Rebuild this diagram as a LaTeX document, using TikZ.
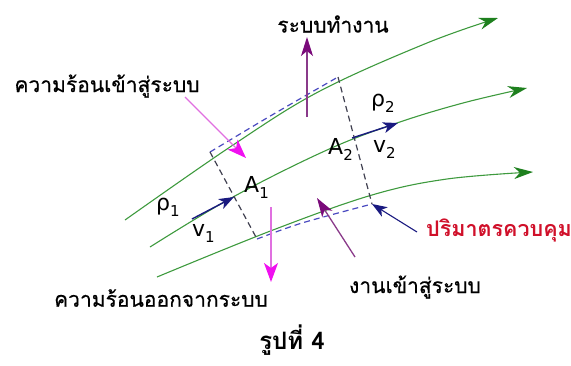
\documentclass[tikz,border=0pt]{standalone}
\usepackage{fontspec}
\setmainfont{DejaVu Sans}
\newfontfamily\thai[Script=Thai]{Loma}
\newfontfamily\thaiheavy[Script=Thai,FakeBold=0.6]{Loma}
\usetikzlibrary{arrows.meta}
\definecolor{sgreen}{HTML}{3E9A3E}
\definecolor{sgreentip}{HTML}{1E801E}
\definecolor{navy}{HTML}{1A1A80}
\definecolor{purp}{HTML}{8A3A8A}
\definecolor{purptip}{HTML}{7A0A7A}
\definecolor{magline}{HTML}{E070E0}
\definecolor{magtip}{HTML}{F010F0}
\definecolor{cvblue}{HTML}{4A4AC0}
\definecolor{cvgray}{HTML}{404050}
\definecolor{cvred}{HTML}{D0102A}
\newcommand{\mysub}[1]{\raisebox{-0.5ex}{\fontsize{15}{15}\selectfont #1}}
\tikzset{
  stream/.style={sgreen, line width=1.1pt, -{Stealth[length=19pt,width=12pt,inset=6pt,fill=sgreentip,color=sgreentip]}},
  vel/.style={navy, line width=1.4pt, -{Stealth[length=15pt,width=11pt,inset=4pt]}},
  workarr/.style={purp, line width=1.3pt, -{Stealth[length=19pt,width=12pt,inset=5pt,color=purptip]}},
  heatarr/.style={magline, line width=1.3pt, -{Stealth[length=19pt,width=14pt,inset=5pt,color=magtip]}},
  cvtop/.style={cvblue, line width=1.2pt, dash pattern=on 6pt off 4pt},
  cvside/.style={cvgray, line width=1.2pt, dash pattern=on 6pt off 4pt},
  thlabel/.style={inner sep=0pt, font=\thaiheavy\fontsize{21}{21}\selectfont},
  latin/.style={inner sep=0pt, font=\fontsize{22}{22}\selectfont, anchor=base west},
}
\begin{document}
\begin{tikzpicture}[x=1pt,y=-1pt]
\useasboundingbox (0,0) rectangle (571,365);
% streamlines
\coordinate (s1a) at (125,220); \coordinate (s1b) at (498,18);
\coordinate (s2a) at (150,247); \coordinate (s2b) at (527,88);
\coordinate (s3a) at (157,277); \coordinate (s3b) at (533,172);
\draw[stream] plot[smooth,tension=0.6] coordinates {(s1a) (233,145) (320,91) (427,43) (s1b)};
\draw[stream] plot[smooth,tension=0.6] coordinates {(s2a) (233,197) (327,150) (397,123) (463,103) (s2b)};
\draw[stream] plot[smooth,tension=0.6] coordinates {(s3a) (273,230) (372,195) (447,179) (s3b)};
% control volume
\coordinate (tl) at (210,152); \coordinate (tr) at (338,77);
\coordinate (br) at (372,204); \coordinate (bl) at (257,239);
\draw[cvtop] plot[smooth,tension=0.5] coordinates {(tl) (272,115) (tr)};
\draw[cvtop] plot[smooth,tension=0.5] coordinates {(bl) (302,223) (br)};
\draw[cvside] (tl) -- (bl);
\draw[cvside] (tr) -- (br);
% velocity arrows
\coordinate (v1a) at (192,219); \coordinate (v1b) at (234,197);
\coordinate (v2a) at (352,138); \coordinate (v2b) at (398,123);
\draw[vel] (v1a) -- (v1b);
\draw[vel] (v2a) -- (v2b);
% labels
\node[thlabel] (work) at (333,24) {ระบบทำงาน};
\node[thlabel] (heatin) at (107,86) {ความร้อนเข้าสู่ระบบ};
\node[thlabel] (heatout) at (161,298) {ความร้อนออกจากระบบ};
\node[thlabel] (workin) at (415,287) {งานเข้าสู่ระบบ};
\node[thlabel, anchor=west, text=cvred, font=\thai\bfseries\fontsize{21.5}{21.5}\selectfont] (cv) at (426,230) {ปริมาตรควบคุม};
\node[thlabel, font=\thai\bfseries\fontsize{24}{24}\selectfont] (title) at (292,340) {รูปที่ 4};
\node[latin] (A1) at (244,192) {A\mysub{1}};
\node[latin] (A2) at (328,154) {A\mysub{2}};
\node[latin] (r1) at (156,210) {ρ\mysub{1}};
\node[latin] (r2) at (371,106) {ρ\mysub{2}};
\node[latin] (v1) at (192,236) {v\mysub{1}};
\node[latin] (v2) at (373,152) {v\mysub{2}};
% energy arrows
\coordinate (wo0) at (307,117); \coordinate (wo1) at (307,37);
\draw[workarr] (wo0) -- (wo1);
\coordinate (hi0) at (185,97); \coordinate (hi1) at (246,158);
\draw[heatarr] (hi0) -- (hi1);
\coordinate (ho0) at (271,207); \coordinate (ho1) at (271,282);
\draw[heatarr] (ho0) -- (ho1);
\coordinate (wi0) at (355,257); \coordinate (wi1) at (317,198);
\draw[workarr] (wi0) -- (wi1);
\coordinate (cp0) at (417,232);
\draw[vel, line width=1.1pt] (cp0) -- (br);
\end{tikzpicture}
\end{document}
